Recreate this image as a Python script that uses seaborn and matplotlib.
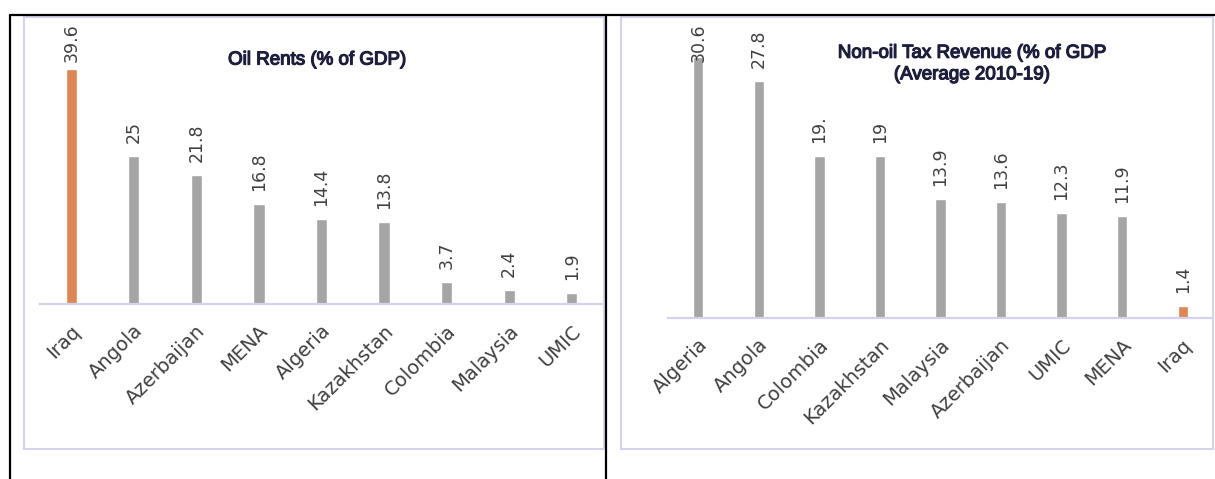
import matplotlib
matplotlib.use("Agg")
import matplotlib.pyplot as plt
import matplotlib.patheffects as pe
from matplotlib.patches import Rectangle
from matplotlib.lines import Line2D
from matplotlib.transforms import ScaledTranslation
import pandas as pd
import seaborn as sns

# ---- data -------------------------------------------------------------
oil_countries = ["Iraq", "Angola", "Azerbaijan", "MENA", "Algeria",
                 "Kazakhstan", "Colombia", "Malaysia", "UMIC"]
oil_rents = [39.6, 25, 21.8, 16.8, 14.4, 13.8, 3.7, 2.4, 1.9]
oil_labels = ["39.6", "25", "21.8", "16.8", "14.4", "13.8", "3.7", "2.4", "1.9"]

tax_countries = ["Algeria", "Angola", "Colombia", "Kazakhstan", "Malaysia",
                 "Azerbaijan", "UMIC", "MENA", "Iraq"]
tax_revenue = [30.6, 27.8, 19, 19, 13.9, 13.6, 12.3, 11.9, 1.4]
tax_labels = ["30.6", "27.8", "19.", "19", "13.9", "13.6", "12.3", "11.9", "1.4"]

highlight = "Iraq"
oil_title = "Oil Rents (% of GDP)"
tax_title = "Non-oil Tax Revenue (% of GDP\n(Average 2010-19)"

# ---- style ------------------------------------------------------------
W, H, DPI = 1215, 479, 100
GRAY = "#a5a5a5"
ORANGE = "#de8654"
FRAME = "#d3d3ef"
TEXT = "#404040"
TITLE = "#1d1d3d"

sns.set_theme(style="white")
plt.rcParams["font.family"] = ["DejaVu Sans"]

fig = plt.figure(figsize=(W / DPI, H / DPI), dpi=DPI)
fig.patch.set_facecolor("white")


def fig_box(x0, y0, x1, y1):
    """Pixel box (origin top-left) -> figure-fraction rect."""
    return [x0 / W, 1 - y1 / H, (x1 - x0) / W, (y1 - y0) / H]


def fig_line(xs, ys, **kw):
    fig.lines.append(Line2D([x / W for x in xs], [1 - y / H for y in ys],
                            transform=fig.transFigure, **kw))


# table-cell rules around the two charts
fig_line([10, 1215], [15, 15], color="black", lw=1.6)
fig_line([10, 10], [15, 479], color="black", lw=1.6)
fig_line([606, 606], [15, 479], color="black", lw=1.6)

# chart-area frames
for x0, y0, x1, y1 in [(24, 17, 604, 449), (621, 17, 1213, 449)]:
    l, b, w, h = fig_box(x0, y0, x1, y1)
    fig.patches.append(Rectangle((l, b), w, h, transform=fig.transFigure,
                                 fill=False, edgecolor=FRAME, lw=1.5, zorder=0))


def panel(cats, vals, labels, box, ppu, bar_width):
    x0, top, x1, base = box
    ax = fig.add_axes(fig_box(x0, top, x1, base))
    ax.set_facecolor("none")
    df = pd.DataFrame({"country": cats, "value": vals})
    palette = {c: (ORANGE if c == highlight else GRAY) for c in cats}
    sns.barplot(data=df, x="country", y="value", hue="country", order=cats,
                palette=palette, width=bar_width, legend=False,
                saturation=1, ax=ax)
    ax.set_xlim(-0.5, len(cats) - 0.5)
    ax.set_ylim(0, (base - top) / ppu)
    ax.set_xlabel("")
    ax.set_ylabel("")
    ax.set_yticks([])
    for s in ("left", "right", "top"):
        ax.spines[s].set_visible(False)
    ax.spines["bottom"].set_color(FRAME)
    ax.spines["bottom"].set_linewidth(1.6)

    # value labels, kept inside the chart area
    gap = 13 / ppu
    ceiling = (base - 62) / ppu
    for i, (v, lab) in enumerate(zip(vals, labels)):
        ax.text(i, min(v + gap, ceiling), lab, rotation=90, ha="center",
                va="bottom", fontsize=12.5, color=TEXT)

    ax.tick_params(axis="x", length=0, pad=0, labelsize=14, labelcolor=TEXT)
    shift = ScaledTranslation(6 / DPI, -24 / DPI, fig.dpi_scale_trans)
    for lab in ax.get_xticklabels():
        lab.set_rotation(45)
        lab.set_ha("right")
        lab.set_va("center")
        lab.set_rotation_mode("anchor")
        lab.set_transform(lab.get_transform() + shift)
    return ax


panel(oil_countries, oil_rents, oil_labels, (40, 40, 603, 304), 5.93, 0.18)
panel(tax_countries, tax_revenue, tax_labels, (668, 40, 1213, 318), 8.53, 0.17)

title_kw = dict(ha="center", va="center", fontsize=13.5, color=TITLE,
                family=["Liberation Sans", "DejaVu Sans"],
                path_effects=[pe.withStroke(linewidth=0.9, foreground=TITLE)])
fig.text(317 / W, 1 - 60 / H, oil_title, **title_kw)
fig.text(972 / W, 1 - 64 / H, tax_title, linespacing=1.35, **title_kw)

fig.savefig("out.png", dpi=DPI, facecolor="white")
